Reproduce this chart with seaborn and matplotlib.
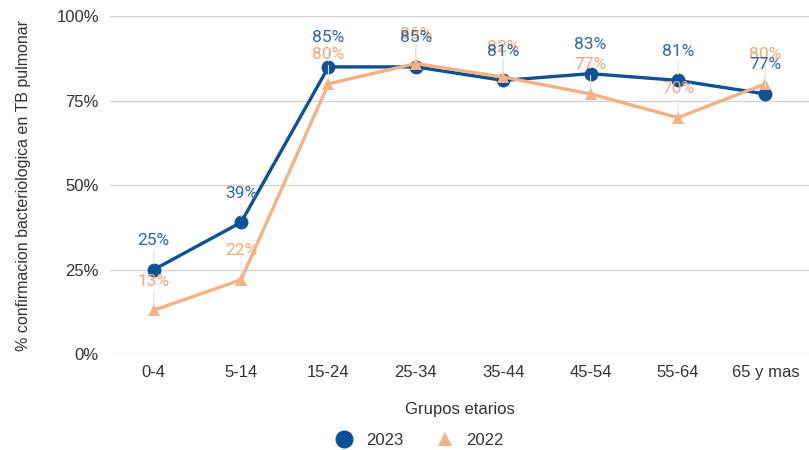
import matplotlib
matplotlib.use("Agg")
import matplotlib.pyplot as plt
from matplotlib.lines import Line2D
import seaborn as sns
import pandas as pd

# Data
grupos = ["0-4", "5-14", "15-24", "25-34", "35-44", "45-54", "55-64", "65 y mas"]
valores_2023 = [25, 39, 85, 85, 81, 83, 81, 77]
valores_2022 = [13, 22, 80, 86, 82, 77, 70, 80]
series = ["2023", "2022"]

color_2023 = "#0e5197"
color_2022 = "#f4b183"
label_2023 = "#2f69a3"
label_2022 = "#f2a877"
grid_color = "#d4d4d4"
text_color = "#333333"

sns.set_theme(style="white")
plt.rcParams["font.family"] = ["Liberation Sans", "DejaVu Sans"]

df = pd.DataFrame({
    "grupo": grupos * 2,
    "pos": list(range(len(grupos))) * 2,
    "valor": valores_2023 + valores_2022,
    "serie": ["2023"] * len(grupos) + ["2022"] * len(grupos),
})

fig = plt.figure(figsize=(8.09, 4.5), dpi=100)
ax = fig.add_axes([0.136, 0.213, 0.864, 0.751])

# Lines: 2023 first, 2022 drawn on top
sns.lineplot(data=df[df.serie == "2023"], x="pos", y="valor", color=color_2023,
             marker="o", markersize=10, markeredgewidth=0, linewidth=2.4,
             ax=ax, legend=False, zorder=3)
sns.lineplot(data=df[df.serie == "2022"], x="pos", y="valor", color=color_2022,
             marker="^", markersize=8, markeredgewidth=0, linewidth=2.4,
             ax=ax, legend=False, zorder=4)

# Value labels with faint leader lines
def etiquetar(vals, color, z):
    for i, v in enumerate(vals):
        ax.annotate(f"{v}%", xy=(i, v), xytext=(0, 21), textcoords="offset points",
                    ha="center", va="center", fontsize=12.5, color=color,
                    family=["Roboto", "DejaVu Sans"], zorder=z,
                    arrowprops=dict(arrowstyle="-", color="#e2e2e2", lw=0.8,
                                    shrinkA=0, shrinkB=4))

etiquetar(valores_2022, label_2022, 5)
etiquetar(valores_2023, label_2023, 6)

ax.set_xlim(-0.5, len(grupos) - 0.5)
ax.set_ylim(0, 100)
ax.set_xticks(range(len(grupos)))
ax.set_xticklabels(grupos)
ax.set_yticks([0, 25, 50, 75, 100])
ax.set_yticklabels([f"{t}%" for t in [0, 25, 50, 75, 100]])
ax.tick_params(axis="both", length=0, labelsize=12, labelcolor=text_color)
ax.tick_params(axis="x", pad=8)
ax.tick_params(axis="y", pad=8)
ax.yaxis.grid(True, color=grid_color, linewidth=1)
ax.set_axisbelow(True)
for s in ax.spines.values():
    s.set_visible(False)

ax.set_xlabel("Grupos etarios", fontsize=12, color=text_color, labelpad=16)
ax.set_ylabel("% confirmacion bacteriologica en TB pulmonar", fontsize=11.5,
              color=text_color, labelpad=18)

handles = [
    Line2D([], [], linestyle="none", marker="o", markersize=13,
           markerfacecolor=color_2023, markeredgewidth=0),
    Line2D([], [], linestyle="none", marker="^", markersize=10,
           markerfacecolor=color_2022, markeredgewidth=0),
]
fig.legend(handles, series, loc="center", bbox_to_anchor=(0.518, 0.021), ncol=2,
           frameon=False, fontsize=12, handletextpad=0.7, columnspacing=1.9,
           handlelength=1.2, labelcolor=text_color)

fig.savefig("out.png", dpi=100)
